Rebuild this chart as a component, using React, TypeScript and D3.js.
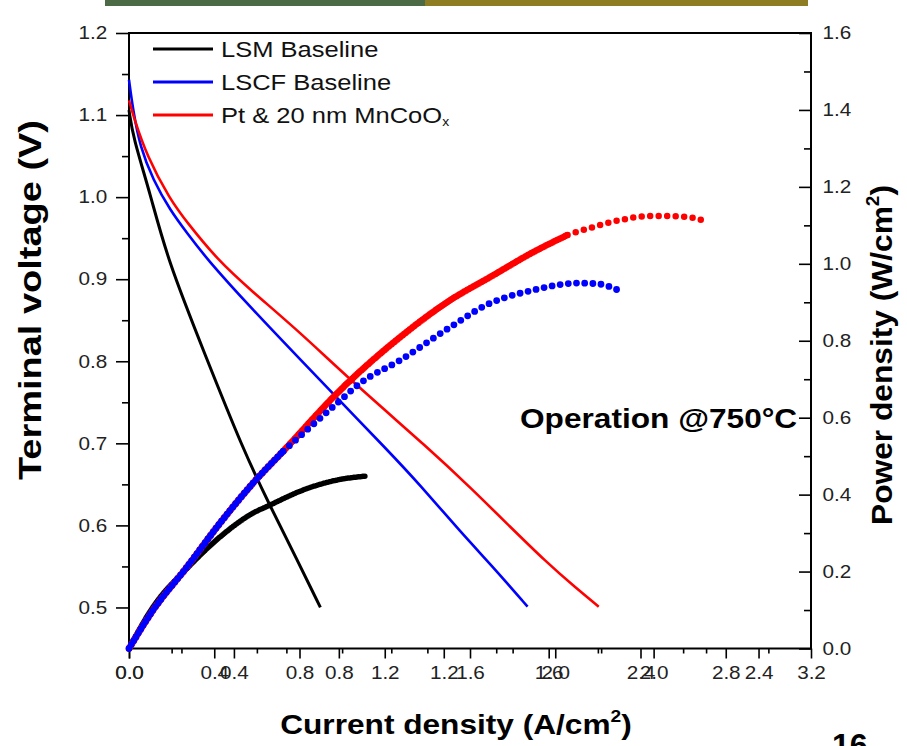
import React, { useEffect, useRef } from 'react';
import * as d3 from 'd3';

const W = 907;
const H = 746;
const FRAME = { left: 129, right: 811, top: 33, bottom: 648.5 };
const FONT = '"Liberation Sans", Arial, Helvetica, sans-serif';
const TEXT_STRETCH = 1.15;

// Terminal voltage (V) against current density (A/cm²), lower-axis scale 0–3.2
const lsmCurrent = [0, 0.019, 0.099, 0.18, 0.357, 0.536, 0.663, 0.789, 0.898];
const lsmVoltage = [1.106, 1.073, 1.005, 0.924, 0.808, 0.692, 0.623, 0.558, 0.5];

const lscfCurrent = [0, 0.019, 0.052, 0.113, 0.193, 0.273, 0.367, 0.569, 0.771, 0.959, 1.212, 1.367, 1.555, 1.72, 1.87];
const lscfVoltage = [1.143, 1.106, 1.061, 1.021, 0.984, 0.956, 0.924, 0.866, 0.811, 0.76, 0.692, 0.649, 0.592, 0.546, 0.501];

const ptCurrent = [0, 0.019, 0.085, 0.193, 0.273, 0.414, 0.569, 0.804, 1.039, 1.414, 1.602, 1.79, 1.955, 2.096, 2.204];
const ptVoltage = [1.118, 1.1, 1.049, 0.997, 0.969, 0.924, 0.887, 0.835, 0.777, 0.692, 0.646, 0.598, 0.556, 0.524, 0.501];

// Power density (W/cm²) against current density, second lower-axis scale 0–2.6
const lsmPowerCurrent = [0, 0.092, 0.221, 0.347, 0.473, 0.538, 0.664, 0.794, 0.901];
const lsmPower = [0, 0.108, 0.208, 0.29, 0.352, 0.373, 0.412, 0.438, 0.448];

const lscfPowerCurrent = [0, 0.092, 0.221, 0.347, 0.473, 0.588, 0.794, 0.882, 1.035, 1.226, 1.378, 1.428, 1.543, 1.634, 1.711, 1.787, 1.863];
const lscfPower = [0, 0.1, 0.212, 0.326, 0.43, 0.513, 0.638, 0.69, 0.75, 0.836, 0.898, 0.911, 0.932, 0.945, 0.95, 0.948, 0.932];

const ptPowerCurrent = [0, 0.092, 0.221, 0.347, 0.473, 0.588, 0.806, 1.035, 1.226, 1.378, 1.543, 1.672, 1.772, 1.875, 1.978, 2.077, 2.153, 2.207];
const ptPower = [0, 0.1, 0.212, 0.326, 0.43, 0.513, 0.672, 0.81, 0.906, 0.966, 1.031, 1.075, 1.096, 1.114, 1.124, 1.124, 1.119, 1.108];

const seriesNames = ['LSM Baseline', 'LSCF Baseline', 'Pt & 20 nm MnCoO'];
const seriesColors = ['#000000', '#0000ff', '#ff0000'];

const voltTicks = [0.5, 0.6, 0.7, 0.8, 0.9, 1.0, 1.1, 1.2];
const powerTicks = [0, 0.2, 0.4, 0.6, 0.8, 1.0, 1.2, 1.4, 1.6];
const currentTicksA = [0, 0.4, 0.8, 1.2, 1.6, 2.0, 2.4, 2.8, 3.2];
const currentTicksB = [0, 0.4, 0.8, 1.2, 1.6, 2.0, 2.4];

type Pt = [number, number];
const zip = (a: number[], b: number[]): Pt[] => a.map((v, i) => [v, b[i]]);

export default function App() {
  const ref = useRef<SVGSVGElement>(null);

  useEffect(() => {
    const svg = d3.select(ref.current);
    svg.selectAll('*').remove();

    const xA = d3.scaleLinear().domain([0, 3.2]).range([FRAME.left, FRAME.right]);
    const xB = d3.scaleLinear().domain([0, 2.6]).range([FRAME.left, FRAME.right]);
    const yV = d3.scaleLinear().domain([0.45, 1.2]).range([FRAME.bottom, FRAME.top]);
    const yP = d3.scaleLinear().domain([0, 1.6]).range([FRAME.bottom, FRAME.top]);

    // banner strip at the very top
    svg.append('rect').attr('x', 105).attr('y', 0).attr('width', 320).attr('height', 6).attr('fill', '#4b6a45');
    svg.append('rect').attr('x', 425).attr('y', 0).attr('width', 383).attr('height', 6).attr('fill', '#8e7d22');

    const axisStyle = (g: d3.Selection<SVGGElement, unknown, null, undefined>) => {
      g.selectAll('.domain').remove();
      g.selectAll('line').attr('stroke', '#000').attr('stroke-width', 1.6);
      g.selectAll('text').attr('font-family', FONT).attr('font-size', 18).attr('fill', '#222')
        .attr('transform', `scale(${TEXT_STRETCH},1)`);
    };

    const fmt = d3.format('.1f');

    // bottom axes (two current-density scales sharing one baseline)
    const minorA = d3.range(0.2, 3.2, 0.4);
    const minorB = d3.range(0.2, 2.6, 0.4);
    [
      { s: xA, major: currentTicksA, minor: minorA },
      { s: xB, major: currentTicksB, minor: minorB },
    ].forEach(({ s, major, minor }) => {
      svg.append('g').attr('transform', `translate(0,${FRAME.bottom})`)
        .call(d3.axisBottom(s).tickValues(minor).tickSize(5).tickFormat(() => ''))
        .call(axisStyle);
      svg.append('g').attr('transform', `translate(0,${FRAME.bottom})`)
        .call(d3.axisBottom(s).tickValues(major).tickSize(10).tickPadding(8).tickFormat((d) => fmt(d as number)))
        .call(axisStyle);
    });

    // left voltage axis
    svg.append('g').attr('transform', `translate(${FRAME.left},0)`)
      .call(d3.axisLeft(yV).tickValues(d3.range(0.55, 1.2, 0.1)).tickSize(7).tickFormat(() => ''))
      .call(axisStyle);
    svg.append('g').attr('transform', `translate(${FRAME.left},0)`)
      .call(d3.axisLeft(yV).tickValues(voltTicks).tickSize(13).tickPadding(6).tickFormat((d) => fmt(d as number)))
      .call(axisStyle);

    // right power axis: ticks point into the plot
    svg.append('g').attr('transform', `translate(${FRAME.right},0)`)
      .call(d3.axisRight(yP).tickValues(d3.range(0.1, 1.6, 0.2)).tickSize(-7).tickFormat(() => ''))
      .call(axisStyle);
    const rg = svg.append('g').attr('transform', `translate(${FRAME.right},0)`)
      .call(d3.axisRight(yP).tickValues(powerTicks).tickSize(-12).tickPadding(23).tickFormat((d) => fmt(d as number)))
      .call(axisStyle);
    rg.selectAll('text').attr('x', 10);

    // frame
    svg.append('rect')
      .attr('x', FRAME.left).attr('y', FRAME.top)
      .attr('width', FRAME.right - FRAME.left).attr('height', FRAME.bottom - FRAME.top)
      .attr('fill', 'none').attr('stroke', '#000').attr('stroke-width', 2);

    // voltage curves
    const vLine = d3.line<Pt>().x((d) => xA(d[0])).y((d) => yV(d[1])).curve(d3.curveBasis);
    const volts = [zip(lsmCurrent, lsmVoltage), zip(lscfCurrent, lscfVoltage), zip(ptCurrent, ptVoltage)];
    volts.forEach((pts, i) => {
      svg.append('path').attr('d', vLine(pts)).attr('fill', 'none')
        .attr('stroke', seriesColors[i]).attr('stroke-width', i === 0 ? 3 : 2.6).attr('stroke-linejoin', 'round');
    });

    // power curves drawn as runs of round markers
    const pLine = d3.line<Pt>().x((d) => xB(d[0])).y((d) => yP(d[1])).curve(d3.curveMonotoneX);
    const power = [zip(lsmPowerCurrent, lsmPower), zip(ptPowerCurrent, ptPower), zip(lscfPowerCurrent, lscfPower)];
    const powerColor = [seriesColors[0], seriesColors[2], seriesColors[1]];
    // [split index, dense spacing, sparse spacing, marker size]
    const markerRuns: [number, number, number, number][] = [
      [8, 1.5, 1.5, 5.5],
      [11, 1.8, 8.5, 6.5],
      [5, 4.5, 8.2, 6.8],
    ];
    power.forEach((pts, i) => {
      const [split, g1, g2, w] = markerRuns[i];
      [[pts.slice(0, split + 1), g1], [pts.slice(split), g2]].forEach(([seg, gap]) => {
        const s = seg as Pt[];
        if (s.length < 2) return;
        svg.append('path').attr('d', pLine(s)).attr('fill', 'none')
          .attr('stroke', powerColor[i]).attr('stroke-width', w)
          .attr('stroke-linecap', 'round').attr('stroke-dasharray', `0 ${gap}`);
      });
    });

    // legend
    seriesNames.forEach((name, i) => {
      const y = 49 + i * 33;
      svg.append('line').attr('x1', 153).attr('x2', 213).attr('y1', y).attr('y2', y)
        .attr('stroke', seriesColors[i]).attr('stroke-width', 3);
      const t = svg.append('text').attr('transform', `translate(221,${y + 8}) scale(1.16,1)`)
        .attr('font-family', FONT).attr('font-size', 22).attr('fill', '#111').text(name);
      if (i === 2) t.append('tspan').attr('font-size', 12).attr('dy', 3).text('x');
    });

    // annotation
    svg.append('text').attr('transform', 'translate(520,428) scale(1.13,1)')
      .attr('font-family', FONT).attr('font-size', 28).attr('font-weight', 'bold').attr('fill', '#000')
      .text('Operation @750°C');

    // axis titles
    svg.append('text').attr('transform', `translate(41,300) rotate(-90)`).attr('text-anchor', 'middle')
      .attr('font-family', FONT).attr('font-size', 31).attr('font-weight', 'bold')
      .attr('textLength', 360).attr('lengthAdjust', 'spacingAndGlyphs')
      .text('Terminal voltage (V)');

    const xt = svg.append('text').attr('transform', 'translate(456,734) scale(1.13,1)').attr('text-anchor', 'middle')
      .attr('font-family', FONT).attr('font-size', 28).attr('font-weight', 'bold');
    xt.append('tspan').text('Current density (A/cm');
    xt.append('tspan').attr('font-size', 17).attr('dy', -12).text('2');
    xt.append('tspan').attr('dy', 12).text(')');

    const yt = svg.append('text').attr('transform', `translate(892,355) rotate(-90)`).attr('text-anchor', 'middle')
      .attr('font-family', FONT).attr('font-size', 30).attr('font-weight', 'bold')
      .attr('textLength', 340).attr('lengthAdjust', 'spacingAndGlyphs');
    yt.append('tspan').text('Power density (W/cm');
    yt.append('tspan').attr('font-size', 18).attr('dy', -13).text('2');
    yt.append('tspan').attr('dy', 13).text(')');

    // page number, partly below the visible area
    svg.append('text').attr('x', 832).attr('y', 756)
      .attr('font-family', FONT).attr('font-size', 32).attr('font-weight', 'bold').text('16');
  }, []);

  return (
    <svg ref={ref} width={W} height={H}
      style={{ position: 'absolute', left: 0, top: 0, background: '#fff' }} />
  );
}
